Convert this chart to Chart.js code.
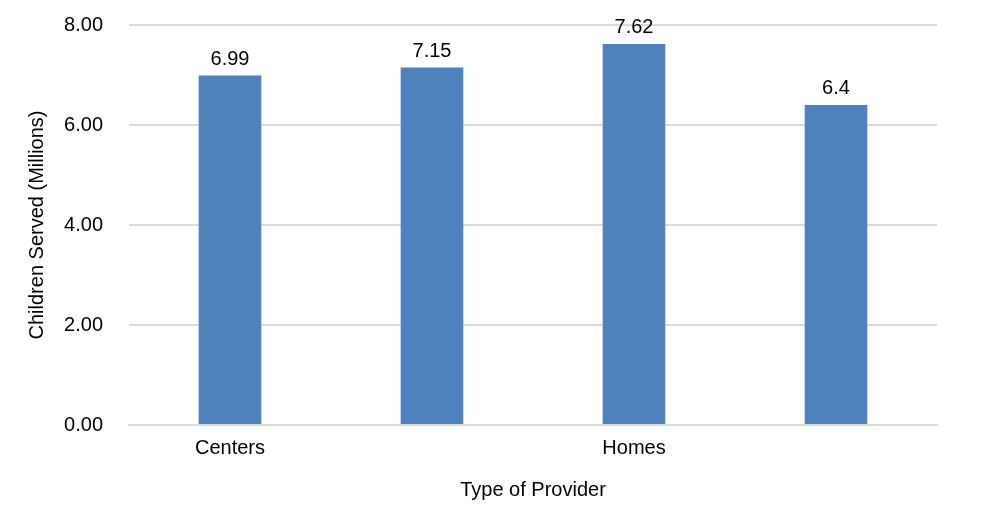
<!DOCTYPE html>
<html>
<head>
<meta charset="utf-8">
<script src="https://cdn.jsdelivr.net/npm/chart.js@4/dist/chart.umd.min.js"></script>
<style>
  html, body { margin: 0; padding: 0; background: #fff; }
  #wrap { width: 985px; height: 518px; }
</style>
</head>
<body>
<div id="wrap"><canvas id="myChart" width="985" height="518"></canvas></div>
<script>
const categories = ['Centers', '', 'Homes', ''];
const childrenServed = [6.99, 7.15, 7.62, 6.4];
const valueLabels = ['6.99', '7.15', '7.62', '6.4'];
const yTicks = [0, 2, 4, 6, 8];

const fontFamily = '"Liberation Sans", Arial, Helvetica, sans-serif';

// writes the value above each bar
const barLabels = {
    id: 'barLabels',
    afterDatasetsDraw(chart) {
        const ctx = chart.ctx;
        const meta = chart.getDatasetMeta(0);
        ctx.save();
        ctx.font = '20px ' + fontFamily;
        ctx.fillStyle = '#000';
        ctx.textAlign = 'center';
        ctx.textBaseline = 'alphabetic';
        meta.data.forEach((bar, i) => {
            ctx.fillText(valueLabels[i], bar.x, bar.y - 11);
        });
        ctx.restore();
    }
};

const data = {
    labels: categories,
    datasets: [{
        data: childrenServed,
        backgroundColor: '#4f81bd',
        categoryPercentage: 1,
        barPercentage: 0.31
    }]
};

const config = {
    type: 'bar',
    data: data,
    plugins: [barLabels],
    options: {
        responsive: false,
        animation: false,
        layout: { padding: { left: 0, right: 48, top: 25, bottom: 0 } },
        plugins: {
            legend: { display: false },
            tooltip: { enabled: false }
        },
        scales: {
            x: {
                grid: { display: false },
                border: { display: true, color: '#d9d9d9', width: 2 },
                ticks: { color: '#000', font: { size: 20, family: fontFamily }, padding: 3, maxRotation: 0, autoSkip: false },
                title: {
                    display: true,
                    text: 'Type of Provider',
                    color: '#000',
                    font: { size: 20, family: fontFamily },
                    padding: { top: 0, bottom: 16 }
                },
                afterFit(scale) { scale.height = 93; }
            },
            y: {
                min: 0,
                max: 8,
                grid: { color: '#d9d9d9', lineWidth: 2, drawTicks: false },
                border: { display: false },
                afterBuildTicks(scale) { scale.ticks = yTicks.map(v => ({ value: v })); },
                ticks: {
                    color: '#000',
                    font: { size: 20, family: fontFamily },
                    padding: 26,
                    callback: v => v.toFixed(2)
                },
                title: {
                    display: true,
                    text: 'Children Served (Millions)',
                    color: '#000',
                    font: { size: 20, family: fontFamily },
                    padding: { top: 25, bottom: 0 }
                },
                afterFit(scale) {
                    scale.width = 129;
                    scale.paddingTop = 0;
                    scale.paddingBottom = 0;
                }
            }
        }
    }
};

const myChart = new Chart(document.getElementById('myChart'), config);
</script>
</body>
</html>
